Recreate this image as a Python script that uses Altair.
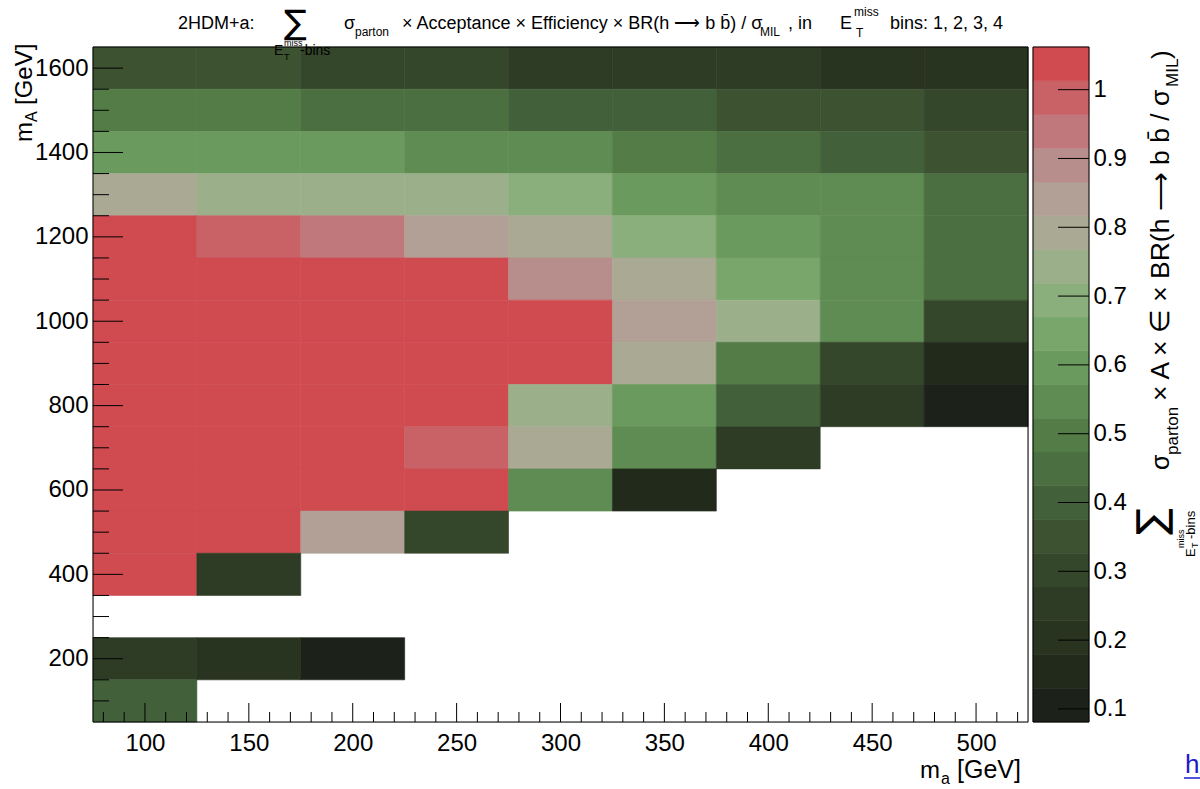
import altair as alt
import pandas as pd

# ---- binning -----------------------------------------------------------
ma_centres = [100, 150, 200, 250, 300, 350, 400, 450, 500]      # m_a [GeV]
ma_half = 25
mA_half = 50

# sum over E_T^miss bins of sigma x A x eff x BR / sigma_MIL, one list per m_A row
row_1600 = [0.35, 0.35, 0.30, 0.30, 0.25, 0.25, 0.25, 0.18, 0.18]
row_1500 = [0.48, 0.48, 0.44, 0.44, 0.40, 0.40, 0.34, 0.34, 0.30]
row_1400 = [0.59, 0.59, 0.59, 0.55, 0.55, 0.50, 0.45, 0.40, 0.33]
row_1300 = [0.80, 0.76, 0.76, 0.73, 0.69, 0.60, 0.55, 0.53, 0.44]
row_1200 = [1.05, 0.99, 0.94, 0.86, 0.79, 0.71, 0.60, 0.55, 0.46]
row_1100 = [1.05, 1.05, 1.05, 1.05, 0.89, 0.79, 0.64, 0.55, 0.45]
row_1000 = [1.05, 1.05, 1.05, 1.05, 1.05, 0.84, 0.72, 0.55, 0.31]
row_900 = [1.05, 1.05, 1.05, 1.05, 1.05, 0.81, 0.50, 0.30, 0.17]
row_800 = [1.05, 1.05, 1.05, 1.05, 0.74, 0.59, 0.38, 0.25, 0.11]
row_700 = [1.05, 1.05, 1.05, 0.99, 0.78, 0.55, 0.26, None, None]
row_600 = [1.05, 1.05, 1.05, 1.05, 0.54, 0.16, None, None, None]
row_500 = [1.05, 1.05, 0.84, 0.31, None, None, None, None, None]
row_400 = [1.05, 0.26, None, None, None, None, None, None, None]
row_300 = [None, None, None, None, None, None, None, None, None]
row_200 = [0.26, 0.20, 0.12, None, None, None, None, None, None]
row_100 = [0.40, None, None, None, None, None, None, None, None]

rows = {
    1600: row_1600, 1500: row_1500, 1400: row_1400, 1300: row_1300,
    1200: row_1200, 1100: row_1100, 1000: row_1000, 900: row_900,
    800: row_800, 700: row_700, 600: row_600, 500: row_500,
    400: row_400, 300: row_300, 200: row_200, 100: row_100,
}

cells = []
for mA, vals in rows.items():
    for ma, z in zip(ma_centres, vals):
        if z is None:
            continue
        cells.append({"ma0": ma - ma_half, "ma1": ma + ma_half,
                      "mA0": mA - mA_half, "mA1": mA + mA_half, "z": z})
cells_df = pd.DataFrame(cells)

# ---- colour contours (20 equal levels between z_min and z_max) ------------
z_min, z_max, n_cont = 0.081, 1.062, 20
edges = [z_min + i * (z_max - z_min) / n_cont for i in range(n_cont + 1)]
palette = ["#1c2119", "#222a1c", "#283320", "#2e3c25", "#35472b",
           "#3c5231", "#42613a", "#4b6f40", "#537c47", "#5e8c53",
           "#6a9a5d", "#78a66b", "#8aae7c", "#9bb08a", "#aaa993",
           "#b2a097", "#b88e8c", "#c0787c", "#c86267", "#cf4b50"]
cscale = alt.Scale(type="threshold", domain=edges[1:-1], range=palette)
cbar_df = pd.DataFrame({"lo": edges[:-1], "hi": edges[1:],
                        "z": [(a + b) / 2 for a, b in zip(edges[:-1], edges[1:])]})

# ---- ticks ---------------------------------------------------------------
x_major = [100, 150, 200, 250, 300, 350, 400, 450, 500]
x_minor = [v for v in range(80, 530, 10) if v % 50 != 0]
y_major = [200, 400, 600, 800, 1000, 1200, 1400, 1600]
y_minor = [v for v in range(100, 1650, 50) if v % 200 != 0]
z_ticks = [0.1, 0.2, 0.3, 0.4, 0.5, 0.6, 0.7, 0.8, 0.9, 1.0]

W, H = 935, 675
FONT = "Liberation Sans"
one = pd.DataFrame({"k": [0]})

xs = alt.Scale(domain=[75, 525], nice=False, zero=False)
ys = alt.Scale(domain=[50, 1650], nice=False, zero=False)
zs = alt.Scale(domain=[z_min, z_max], nice=False, zero=False)

common_axis = dict(ticks=False, tickSize=0, domain=False, grid=False,
                   labelFont=FONT, labelFontSize=24, labelColor="black",
                   labelFlush=False, labelOverlap=False, title=None)
x_axis = alt.Axis(values=x_major, format="d", labelPadding=9, **common_axis)
y_axis = alt.Axis(values=y_major, format="d", labelPadding=5, **common_axis)

CB0, CB1 = 940, 996
z_axis = alt.Axis(orient="right", offset=CB1 - W, values=z_ticks, format="~g",
                  labelPadding=4, **common_axis)

heat = alt.Chart(cells_df).mark_rect(strokeWidth=0.6).encode(
    x=alt.X("ma0:Q", scale=xs, axis=x_axis),
    x2="ma1:Q",
    y=alt.Y("mA0:Q", scale=ys, axis=y_axis),
    y2="mA1:Q",
    color=alt.Color("z:Q", scale=cscale, legend=None),
    stroke=alt.Stroke("z:Q", scale=cscale, legend=None),
)


def xticks(vals, length):
    return alt.Chart(pd.DataFrame({"v": vals})).mark_rule(
        color="black", strokeWidth=1).encode(
        x=alt.X("v:Q", scale=xs, axis=x_axis),
        y=alt.value(H), y2=alt.value(H - length))


def yticks(vals, length):
    return alt.Chart(pd.DataFrame({"w": vals})).mark_rule(
        color="black", strokeWidth=1).encode(
        y=alt.Y("w:Q", scale=ys, axis=y_axis),
        x=alt.value(0), x2=alt.value(length))


frame = alt.Chart(one).mark_rect(filled=False, stroke="black", strokeWidth=1).encode(
    x=alt.value(0), x2=alt.value(W), y=alt.value(0), y2=alt.value(H))

heat_layer = alt.layer(heat, xticks(x_major, 19), xticks(x_minor, 10),
                       yticks(y_major, 30), yticks(y_minor, 16), frame)

# ---- colour bar ------------------------------------------------------------
cbar = alt.Chart(cbar_df).mark_rect(strokeWidth=0.6).encode(
    x=alt.value(CB0), x2=alt.value(CB1),
    y=alt.Y("lo:Q", scale=zs, axis=z_axis),
    y2="hi:Q",
    color=alt.Color("z:Q", scale=cscale, legend=None),
    stroke=alt.Stroke("z:Q", scale=cscale, legend=None),
)
cbar_ticks = alt.Chart(pd.DataFrame({"lo": z_ticks})).mark_rule(
    color="black", strokeWidth=1).encode(
    y=alt.Y("lo:Q", scale=zs, axis=z_axis),
    x=alt.value(CB1 - 31), x2=alt.value(CB1))
cbar_frame = alt.Chart(one).mark_rect(filled=False, stroke="black", strokeWidth=1).encode(
    x=alt.value(CB0), x2=alt.value(CB1), y=alt.value(0), y2=alt.value(H))

cbar_layer = alt.layer(cbar, cbar_ticks, cbar_frame)


# ---- text pieces (titles with sub/superscripts) --------------------------
def txt(s, x, y, size, angle=0, color="black", font=FONT):
    return alt.Chart(one).mark_text(
        text=s, fontSize=size, angle=angle, align="left", baseline="alphabetic",
        font=font, color=color).encode(x=alt.value(x), y=alt.value(y))


B = "b\u0304"
ARROW = "\u27f6"
texts = [
    # top title
    txt("2HDM+a:", 85, -18, 18),
    txt("\u2211", 191, -13, 34, font="DejaVu Sans"),
    txt("E", 181, 8, 14), txt("miss", 191, -1, 9), txt("T", 191, 13, 9),
    txt("-bins", 207, 8, 14),
    txt("\u03c3", 251, -18, 18), txt("parton", 262, -11, 12),
    txt("\u00d7 Acceptance \u00d7 Efficiency \u00d7 BR(h " + ARROW + " b " + B + ") / \u03c3",
        309, -18, 18),
    txt("MIL", 667, -11, 12),
    txt(", in", 695, -18, 18), txt("E", 747, -18, 18),
    txt("miss", 761, -31, 12), txt("T", 763, -10, 12),
    txt("bins: 1, 2, 3, 4", 797, -18, 18),
    # y axis title
    txt("m", -61, 95, 24, 270), txt("A", -56, 75, 16, 270),
    txt("[GeV]", -61, 58, 24, 270),
    # x axis title
    txt("m", 827, 731, 24), txt("a", 848, 737, 16), txt("[GeV]", 864, 731, 25),
    # colour bar title
    txt("\u2211", 1072, 488, 40, 270, font="DejaVu Sans"),
    txt("E", 1102, 510, 13, 270), txt("miss", 1091, 501, 9, 270),
    txt("T", 1105, 501, 9, 270), txt("-bins", 1102, 492, 13, 270),
    txt("\u03c3", 1076, 423, 25, 270), txt("parton", 1085, 408, 17, 270),
    txt("\u00d7 A \u00d7 \u2208 \u00d7 BR(h " + ARROW + " b " + B + " / \u03c3",
        1076, 354, 26.5, 270),
    txt("MIL", 1085, 40, 17, 270),
    txt(")", 1077, 12, 26, 270),
    # link fragment at the lower right
    txt("h", 1092, 726, 26, 0, "#1a1ad0"),
]
underline = alt.Chart(one).mark_rule(color="#1a1ad0", strokeWidth=1.5).encode(
    x=alt.value(1091), x2=alt.value(1110), y=alt.value(731))

chart = alt.layer(heat_layer, cbar_layer, *texts, underline).resolve_scale(
    y="independent").properties(
    width=W, height=H,
    autosize=alt.AutoSizeParams(type="none"),
    padding={"left": 93, "top": 47, "right": 172, "bottom": 67},
).configure_view(stroke=None).configure(background="white")

chart.save("out.html", embed_options={"renderer": "svg", "actions": False})
